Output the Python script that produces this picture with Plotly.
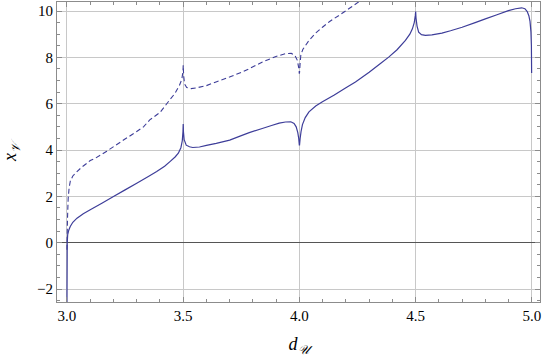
"""Mathematica-style frame plot of x_V against d_U."""

import plotly.graph_objects as go

# Solid branch
x_solid = [
    3.000, 3.001, 3.003, 3.008, 3.014, 3.025, 3.043, 3.07, 3.10, 3.15, 3.20,
    3.25, 3.30, 3.35, 3.386, 3.42, 3.443, 3.465, 3.479, 3.490, 3.496, 3.499,
    3.500, 3.501, 3.504, 3.513, 3.527, 3.541, 3.57, 3.60, 3.642, 3.70, 3.75,
    3.784, 3.84, 3.88, 3.913, 3.94, 3.963, 3.977, 3.986, 3.993, 3.997, 3.9995,
    4.0005, 4.003, 4.007, 4.013, 4.025, 4.041, 4.07, 4.099, 4.15, 4.20, 4.241,
    4.30, 4.35, 4.384, 4.42, 4.456, 4.475, 4.486, 4.494, 4.4985, 4.500, 4.5015,
    4.506, 4.513, 4.525, 4.542, 4.57, 4.613, 4.65, 4.70, 4.756, 4.80, 4.85,
    4.899, 4.93, 4.956, 4.970, 4.980, 4.987, 4.992, 4.996, 4.998, 4.999,
]
y_solid = [
    -2.6, 0.0, 0.35, 0.55, 0.70, 0.88, 1.06, 1.25, 1.42, 1.70, 1.99,
    2.28, 2.57, 2.86, 3.07, 3.30, 3.50, 3.70, 3.86, 4.10, 4.40, 4.80,
    5.12, 4.80, 4.45, 4.21, 4.14, 4.11, 4.13, 4.20, 4.29, 4.43, 4.62,
    4.75, 4.93, 5.06, 5.16, 5.21, 5.22, 5.15, 5.00, 4.75, 4.50, 4.22,
    4.22, 4.50, 4.80, 5.10, 5.40, 5.65, 5.90, 6.08, 6.38, 6.69, 6.94,
    7.36, 7.75, 8.01, 8.33, 8.73, 9.00, 9.23, 9.50, 9.80, 9.98, 9.70,
    9.35, 9.09, 8.98, 8.95, 8.97, 9.05, 9.15, 9.30, 9.50, 9.66, 9.84,
    10.02, 10.10, 10.14, 10.10, 9.98, 9.80, 9.55, 9.10, 8.50, 7.33,
]

# Dashed branch
x_dashed = [
    3.000, 3.002, 3.005, 3.009, 3.014, 3.025, 3.043, 3.065, 3.086, 3.10,
    3.121, 3.171, 3.243, 3.30, 3.329, 3.356, 3.40, 3.441, 3.465, 3.484,
    3.494, 3.499, 3.500, 3.502, 3.506, 3.515, 3.534, 3.556, 3.60, 3.641,
    3.699, 3.75, 3.784, 3.841, 3.899, 3.941, 3.965, 3.980, 3.991, 3.997,
    3.9995, 4.0005, 4.003, 4.006, 4.015, 4.041, 4.07, 4.099, 4.13, 4.17,
    4.22, 4.263, 4.30,
]
y_dashed = [
    -0.3, 1.0, 1.9, 2.35, 2.65, 2.88, 3.07, 3.27, 3.43, 3.55,
    3.64, 3.95, 4.43, 4.80, 5.00, 5.30, 5.62, 6.15, 6.45, 6.80,
    7.05, 7.40, 7.66, 7.20, 6.85, 6.70, 6.65, 6.68, 6.78, 6.94,
    7.15, 7.35, 7.51, 7.80, 8.04, 8.16, 8.17, 8.10, 7.87, 7.55,
    7.30, 7.35, 7.75, 8.10, 8.35, 8.73, 9.05, 9.30, 9.55, 9.81,
    10.15, 10.45, 10.70,
]

x_ticks = [3.0, 3.5, 4.0, 4.5, 5.0]
y_ticks = [-2, 0, 2, 4, 6, 8, 10]

LINE_COLOUR = "#3d3d99"
FONT = "Liberation Serif"
FRAME = "#8c8c8c"

fig = go.Figure()
fig.add_trace(go.Scatter(
    x=x_dashed, y=y_dashed, mode="lines",
    line=dict(color=LINE_COLOUR, width=1.1, dash="5px,3px", simplify=False),
    showlegend=False,
))
fig.add_trace(go.Scatter(
    x=x_solid, y=y_solid, mode="lines",
    line=dict(color=LINE_COLOUR, width=1.2, simplify=False),
    showlegend=False,
))

axis_common = dict(
    showline=True, linecolor=FRAME, linewidth=1, mirror="ticks",
    ticks="inside", ticklen=5, tickcolor=FRAME, tickwidth=1,
    showgrid=True, gridcolor="#c8c8c8", gridwidth=1,
)

fig.update_xaxes(
    range=[2.957, 5.035], tickvals=x_ticks,
    ticktext=[f"{v:.1f}" for v in x_ticks],
    minor=dict(dtick=0.1, tick0=3.0, ticks="inside", ticklen=3,
               tickcolor=FRAME, showgrid=False),
    zeroline=False,
    title=dict(text="<i>d</i><sub><i>𝒰</i></sub>", standoff=14),
    **axis_common,
)
fig.update_yaxes(
    range=[-2.56, 10.39], tickvals=y_ticks,
    ticktext=[str(v).replace("-", "\u2212") for v in y_ticks],
    minor=dict(dtick=0.5, tick0=0, ticks="inside", ticklen=3,
               tickcolor=FRAME, showgrid=False),
    zeroline=True, zerolinecolor="#555555", zerolinewidth=1,
    title=dict(text="<i>x</i><sub><i>𝒱</i></sub>", standoff=18),
    **axis_common,
)

fig.update_layout(
    width=545, height=361,
    margin=dict(l=57, r=5, t=2, b=59, autoexpand=False),
    font=dict(family=FONT, size=15, color="black"),
    plot_bgcolor="white", paper_bgcolor="white",
)

# the page body has an 8px default margin; drop it so the figure sits at 0,0
fig.write_html(
    "out.html",
    config={"displayModeBar": False},
    post_script="document.body.style.margin='0';",
)
